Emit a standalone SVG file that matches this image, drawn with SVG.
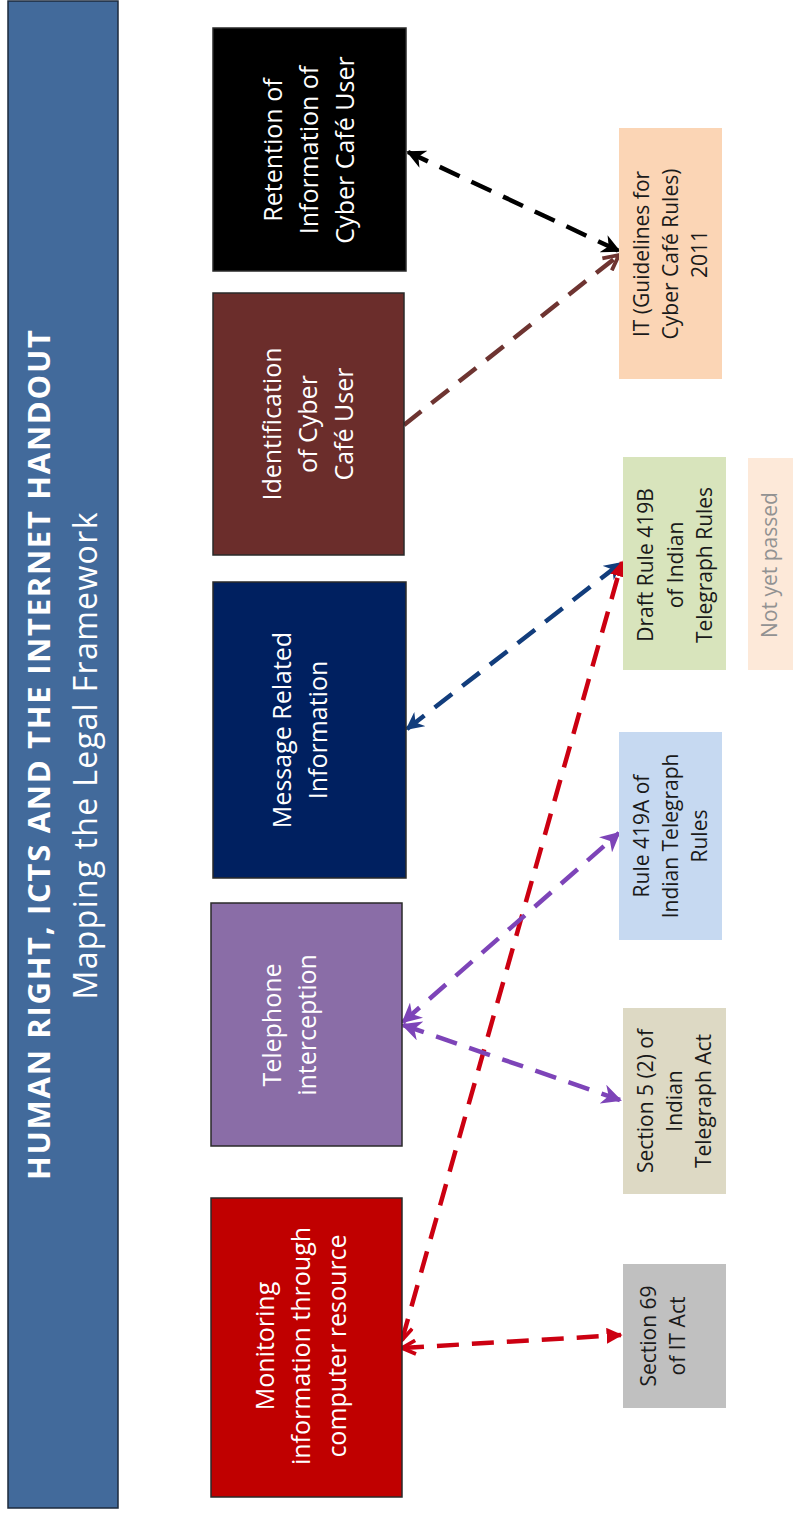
<svg xmlns="http://www.w3.org/2000/svg" width="795" height="1517" viewBox="0 0 795 1517">
<style>
.nt{font-family:"Open Sans","Liberation Sans",sans-serif;font-size:25px;fill:#ffffff;text-anchor:middle}
.rt{font-family:"Open Sans","Liberation Sans",sans-serif;font-size:21px;fill:#1a1a1a;text-anchor:middle}
.node{stroke:#2a2a2a;stroke-width:1.5}
.c{fill:none;stroke-width:4.5;stroke-dasharray:22 13}
</style>
<defs>
<marker id="aK" viewBox="0 0 10 10" refX="9" refY="5" markerUnits="userSpaceOnUse" markerWidth="19" markerHeight="19" orient="auto-start-reverse"><path d="M0,0 L10,5 L0,10 L3,5 z" fill="#000"/></marker>
<marker id="aB" viewBox="0 0 10 10" refX="9" refY="5" markerUnits="userSpaceOnUse" markerWidth="19" markerHeight="19" orient="auto-start-reverse"><path d="M1,1 L9,5 L1,9" fill="none" stroke="#6E3431" stroke-width="2"/></marker>
<marker id="aN" viewBox="0 0 10 10" refX="9" refY="5" markerUnits="userSpaceOnUse" markerWidth="18" markerHeight="18" orient="auto-start-reverse"><path d="M0,0 L10,5 L0,10 L3,5 z" fill="#123D7C"/></marker>
<marker id="aP" viewBox="0 0 10 10" refX="9" refY="5" markerUnits="userSpaceOnUse" markerWidth="20" markerHeight="20" orient="auto-start-reverse"><path d="M0,0 L10,5 L0,10 L3,5 z" fill="#7D44B8"/></marker>
<marker id="aRt" viewBox="0 0 10 10" refX="9" refY="5" markerUnits="userSpaceOnUse" markerWidth="16" markerHeight="16" orient="auto-start-reverse"><path d="M0,0 L10,5 L0,10 z" fill="#CC0011"/></marker>
<marker id="aRo" viewBox="0 0 10 10" refX="9" refY="5" markerUnits="userSpaceOnUse" markerWidth="17" markerHeight="17" orient="auto-start-reverse"><path d="M1,1 L9,5 L1,9" fill="none" stroke="#CC0011" stroke-width="2.2"/></marker>
</defs>
<rect width="795" height="1517" fill="#ffffff"/>

<g id="title">
<rect x="8" y="1" width="110" height="1507" fill="#426A9B" stroke="#1c2a3c" stroke-width="1.5"/>
<text transform="translate(50,755) rotate(-90)" font-family="'Open Sans','Liberation Sans',sans-serif" font-size="31" font-weight="bold" fill="#fff" text-anchor="middle" textLength="850" lengthAdjust="spacing">HUMAN RIGHT, ICTS AND THE INTERNET HANDOUT</text>
<text transform="translate(97,756) rotate(-90)" font-family="'Open Sans','Liberation Sans',sans-serif" font-size="32" fill="#fff" text-anchor="middle" textLength="487" lengthAdjust="spacing">Mapping the Legal Framework</text>
</g>

<g id="connectors">
<line class="c" x1="408" y1="152" x2="619" y2="251" stroke="#000" marker-start="url(#aK)" marker-end="url(#aK)"/>
<line class="c" x1="404" y1="425" x2="619" y2="255" stroke="#6E3431"  marker-end="url(#aB)"/>
<line class="c" x1="407" y1="729" x2="621" y2="563" stroke="#123D7C" marker-start="url(#aN)" marker-end="url(#aN)"/>
<line class="c" x1="402" y1="1340" x2="622" y2="562" stroke="#CC0011" stroke-dasharray="23 15" marker-start="url(#aRo)" marker-end="url(#aRt)"/>
<line class="c" x1="403" y1="1022" x2="619" y2="833" stroke="#7D44B8" stroke-dasharray="34 13" marker-start="url(#aP)" marker-end="url(#aP)"/>
<line class="c" x1="403" y1="1025" x2="620" y2="1100" stroke="#7D44B8" stroke-dasharray="34 13" marker-start="url(#aP)" marker-end="url(#aP)"/>
<line class="c" x1="402" y1="1348" x2="621" y2="1335" stroke="#CC0011" stroke-dasharray="23 15" marker-start="url(#aRo)" marker-end="url(#aRt)"/>
</g>

<g id="n-retention">
<rect class="node" x="213" y="28" width="193" height="243" fill="#000"/>
<text class="nt" transform="translate(309,150) rotate(-90)"><tspan x="0" y="-27">Retention of</tspan><tspan x="0" y="9">Information of</tspan><tspan x="0" y="45">Cyber Café User</tspan></text>
</g>
<g id="n-identification">
<rect class="node" x="213" y="293" width="191" height="262" fill="#6B2D2B"/>
<text class="nt" transform="translate(308,424) rotate(-90)"><tspan x="0" y="-27">Identification</tspan><tspan x="0" y="9">of Cyber</tspan><tspan x="0" y="45">Café User</tspan></text>
</g>
<g id="n-message">
<rect class="node" x="213" y="582" width="193" height="296" fill="#002060"/>
<text class="nt" transform="translate(309,730) rotate(-90)"><tspan x="0" y="-18">Message Related</tspan><tspan x="0" y="18">Information</tspan></text>
</g>
<g id="n-telephone">
<rect class="node" x="211" y="903" width="191" height="243" fill="#8A6DA7"/>
<text class="nt" transform="translate(306,1025) rotate(-90)"><tspan x="0" y="-25">Telephone</tspan><tspan x="0" y="10">interception</tspan></text>
</g>
<g id="n-monitoring">
<rect class="node" x="211" y="1198" width="191" height="299" fill="#C00000"/>
<text class="nt" transform="translate(301,1346) rotate(-90)"><tspan x="0" y="-27">Monitoring</tspan><tspan x="0" y="9">information through</tspan><tspan x="0" y="45">computer resource</tspan></text>
</g>

<g id="n-it-guidelines">
<rect x="619" y="128" width="103" height="251" fill="#FBD5B5"/>
<text class="rt" transform="translate(670,254) rotate(-90)"><tspan x="0" y="-21">IT (Guidelines for</tspan><tspan x="0" y="8">Cyber Café Rules)</tspan><tspan x="0" y="37">2011</tspan></text>
</g>
<g id="n-draft419b">
<rect x="623" y="457" width="103" height="213" fill="#D8E4BC"/>
<text class="rt" transform="translate(674,565) rotate(-90)"><tspan x="0" y="-21">Draft Rule 419B</tspan><tspan x="0" y="9">of Indian</tspan><tspan x="0" y="38">Telegraph Rules</tspan></text>
</g>
<g id="n-notyet">
<rect x="748" y="458" width="45" height="212" fill="#FDE9D9"/>
<text class="rt" transform="translate(770,565) rotate(-90)" style="fill:#929292" y="7">Not yet passed</text>
</g>
<g id="n-rule419a">
<rect x="619" y="732" width="103" height="208" fill="#C6D9F1"/>
<text class="rt" transform="translate(670,836) rotate(-90)"><tspan x="0" y="-21">Rule 419A of</tspan><tspan x="0" y="8">Indian Telegraph</tspan><tspan x="0" y="37">Rules</tspan></text>
</g>
<g id="n-section5">
<rect x="623" y="1008" width="103" height="186" fill="#DDD9C4"/>
<text class="rt" transform="translate(674,1101) rotate(-90)"><tspan x="0" y="-21">Section 5 (2) of</tspan><tspan x="0" y="8">Indian</tspan><tspan x="0" y="37">Telegraph Act</tspan></text>
</g>
<g id="n-section69">
<rect x="623" y="1264" width="103" height="144" fill="#C0C0C0"/>
<text class="rt" transform="translate(674,1336) rotate(-90)"><tspan x="0" y="-18">Section 69</tspan><tspan x="0" y="11">of IT Act</tspan></text>
</g>
</svg>
